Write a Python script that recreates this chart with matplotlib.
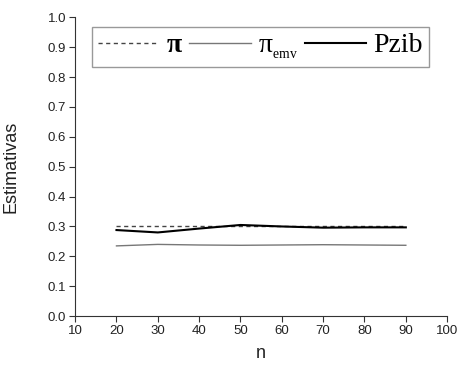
import matplotlib
matplotlib.use("Agg")
import matplotlib.pyplot as plt

n = [20, 30, 40, 50, 60, 70, 80, 90]
pi_true = [0.300, 0.300, 0.300, 0.300, 0.300, 0.300, 0.300, 0.300]
pi_emv = [0.235, 0.240, 0.238, 0.237, 0.238, 0.239, 0.238, 0.237]
pzib = [0.288, 0.280, 0.293, 0.305, 0.300, 0.296, 0.297, 0.297]
labels = ['π', r'π$_{_{\mathrm{emv}}}$', 'Pzib']

plt.rcParams['font.family'] = ['Liberation Sans', 'DejaVu Sans']
plt.rcParams['mathtext.fontset'] = 'custom'
plt.rcParams['mathtext.rm'] = 'Liberation Serif'
plt.rcParams['mathtext.it'] = 'Liberation Serif:italic'
plt.rcParams['mathtext.bf'] = 'Liberation Serif:bold'

fig = plt.figure(figsize=(4.61, 3.68), dpi=100)
ax = fig.add_axes([0.163, 0.141, 0.807, 0.812])

ax.plot(n, pi_true, color='#444444', linestyle=(0, (3, 2.5)), linewidth=1.0, label=labels[0])
ax.plot(n, pi_emv, color='#777777', linewidth=1.0, label=labels[1])
ax.plot(n, pzib, color='black', linewidth=1.5, label=labels[2])

ax.set_xlim(10, 100)
ax.set_ylim(0.0, 1.0)
ax.set_xticks(range(10, 101, 10))
ax.set_yticks([i / 10 for i in range(11)])
ax.set_yticklabels([f"{i/10:.1f}" for i in range(11)])
ax.tick_params(labelsize=9.5, length=4, width=0.8, color='#333333', labelcolor='#222222', pad=2.5)
for s in ['top', 'right']:
    ax.spines[s].set_visible(False)
for s in ['left', 'bottom']:
    ax.spines[s].set_color('#333333')
    ax.spines[s].set_linewidth(0.8)

ax.set_xlabel('n', fontsize=13, color='#222222', labelpad=6)
ax.set_ylabel('Estimativas', fontsize=13, color='#222222', labelpad=20)

leg = ax.legend(loc='upper left', bbox_to_anchor=(0.046, 0.968),
                ncol=3, fancybox=False, edgecolor='#999999', framealpha=1,
                prop={'family': 'Liberation Serif', 'size': 20},
                handlelength=2.2, handletextpad=0.25, columnspacing=0.28,
                borderpad=0.22, borderaxespad=0)
leg.get_frame().set_linewidth(1.0)
leg.get_texts()[0].set_fontweight('bold')

fig.savefig('out.png', dpi=100)
